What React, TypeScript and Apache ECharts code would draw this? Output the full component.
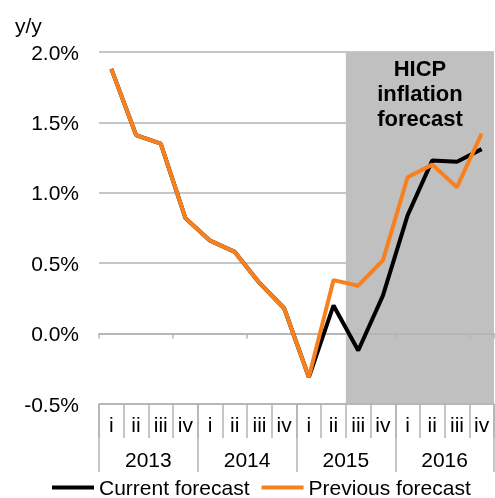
import React, { useEffect, useRef } from 'react';
import * as echarts from 'echarts';

const years = ['2013', '2014', '2015', '2016'];
const quarters = ['i', 'ii', 'iii', 'iv'];
const categories = years.flatMap((y) => quarters.map((q) => `${q} ${y}`));
const currentForecast = [1.88, 1.41, 1.35, 0.82, 0.66, 0.58, 0.36, 0.18, -0.31, 0.2, -0.12, 0.27, 0.84, 1.23, 1.22, 1.31];
const previousForecast = [1.88, 1.41, 1.35, 0.82, 0.66, 0.58, 0.36, 0.18, -0.31, 0.38, 0.34, 0.52, 1.11, 1.2, 1.04, 1.42];
const yMin = -0.5;
const yMax = 2.0;
const yStep = 0.5;
const forecastStart = 'iii 2015';
const shadeLabel = 'HICP\ninflation\nforecast';
const seriesNames = ['Current forecast', 'Previous forecast'];
const unitLabel = 'y/y';

const FONT = '"Liberation Sans", Arial, sans-serif';
const GRAY = '#b3b3b3';

export default function App() {
  const ref = useRef<HTMLDivElement>(null);
  useEffect(() => {
    if (!ref.current) return;
    const chart = echarts.init(ref.current, undefined, { renderer: 'svg' });
    chart.setOption({
      animation: false,
      textStyle: { fontFamily: FONT },
      grid: { left: 99, right: 1, top: 52, bottom: 94, containLabel: false },
      graphic: [
        {
          type: 'text',
          left: 15,
          top: 15,
          style: { text: unitLabel, fontSize: 21, fontFamily: FONT, fill: '#000' },
        },
      ],
      legend: {
        data: seriesNames.map((n) => ({ name: n, icon: 'rect' })),
        left: 52,
        top: 477,
        itemWidth: 42,
        itemHeight: 4,
        itemGap: 12,
        padding: 0,
        textStyle: { fontSize: 21, color: '#000', fontFamily: FONT },
      },
      xAxis: [
        {
          type: 'category',
          data: categories,
          position: 'bottom',
          boundaryGap: true,
          z: 3,
          axisLine: { show: true, onZero: true, lineStyle: { color: GRAY, width: 1.5 } },
          axisTick: { show: true, length: 5, lineStyle: { color: GRAY, width: 1.5 } },
          axisLabel: { show: false },
          splitLine: { show: false },
        },
        {
          type: 'category',
          data: categories,
          position: 'bottom',
          boundaryGap: true,
          z: 3,
          axisLine: { show: true, onZero: false, lineStyle: { color: GRAY, width: 1.5 } },
          axisTick: { show: true, length: 34, lineStyle: { color: GRAY, width: 1.5 } },
          axisLabel: {
            show: true,
            interval: 0,
            margin: 10,
            fontSize: 21,
            color: '#000',
            fontFamily: FONT,
            formatter: (v: string) => v.split(' ')[0],
          },
          splitLine: { show: false },
        },
        {
          type: 'category',
          data: years,
          position: 'bottom',
          boundaryGap: true,
          z: 3,
          axisLine: { show: false, onZero: false },
          axisTick: { show: true, length: 68, lineStyle: { color: GRAY, width: 1.5 } },
          axisLabel: { show: true, interval: 0, margin: 45, fontSize: 21, color: '#000', fontFamily: FONT },
          splitLine: { show: false },
        },
        {
          type: 'value',
          min: 0,
          max: categories.length,
          show: false,
        },
      ],
      yAxis: {
        type: 'value',
        min: yMin,
        max: yMax,
        interval: yStep,
        z: 0,
        axisLine: { show: false },
        axisTick: { show: false },
        axisLabel: {
          margin: 20,
          fontSize: 21,
          color: '#000',
          fontFamily: FONT,
          formatter: (v: number) => v.toFixed(1) + '%',
        },
        splitLine: { show: true, lineStyle: { color: GRAY, width: 1.5 } },
      },
      series: [
        {
          name: 'shade',
          type: 'line',
          xAxisIndex: 3,
          data: [],
          z: 1,
          silent: true,
          markArea: {
            silent: true,
            itemStyle: { color: '#c0c0c0' },
            label: {
              show: true,
              position: 'insideTop',
              distance: 4,
              formatter: shadeLabel,
              fontSize: 22,
              fontWeight: 'bold',
              lineHeight: 25,
              color: '#000',
              fontFamily: FONT,
              align: 'center',
            },
            data: [[{ xAxis: categories.indexOf(forecastStart) }, { xAxis: categories.length }]],
          },
        },
        {
          name: seriesNames[0],
          type: 'line',
          xAxisIndex: 0,
          data: currentForecast,
          showSymbol: false,
          symbol: 'none',
          z: 4,
          color: '#000000',
          lineStyle: { color: '#000000', width: 4 },
        },
        {
          name: seriesNames[1],
          type: 'line',
          xAxisIndex: 0,
          data: previousForecast,
          showSymbol: false,
          symbol: 'none',
          z: 5,
          color: '#F7811E',
          lineStyle: { color: '#F7811E', width: 4 },
        },
      ],
    });
    return () => chart.dispose();
  }, []);
  return <div ref={ref} style={{ position: 'fixed', left: 0, top: 0, width: 495, height: 498 }} />;
}
